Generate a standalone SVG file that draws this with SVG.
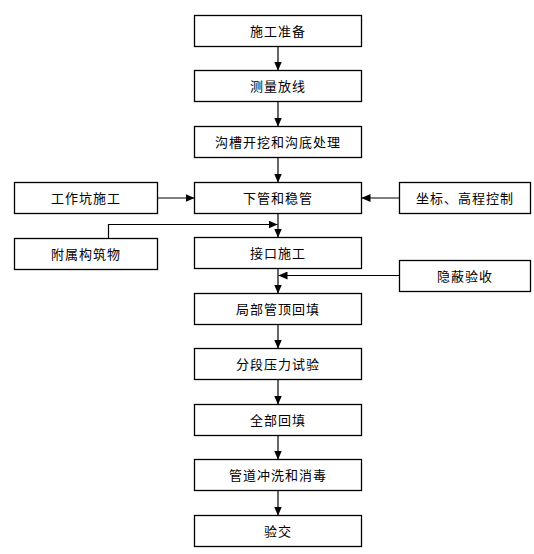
<svg xmlns="http://www.w3.org/2000/svg" width="534" height="554" viewBox="0 0 534 554">
<defs>
<marker id="ah" markerUnits="userSpaceOnUse" markerWidth="9" markerHeight="8" refX="9" refY="4" orient="auto">
<path d="M0,0 L9,4 L0,8 Z" fill="#000"/>
</marker>
<style>
rect{fill:#fff;stroke:#000;stroke-width:1.3}
text{font-family:"Noto Sans CJK SC","Noto Sans CJK JP",sans-serif;font-size:13px;letter-spacing:1px;text-anchor:middle;fill:#000}
.c line,.c polyline{stroke:#000;stroke-width:1.2;fill:none;marker-end:url(#ah)}
</style>
</defs>
<rect x="0" y="0" width="534" height="554" style="stroke:none"/>
<g id="n1"><rect x="194.5" y="15.5" width="167" height="31"/><text x="278" y="35.5">施工准备</text></g>
<g id="n2"><rect x="194.5" y="70.5" width="167" height="31"/><text x="278" y="90.5">测量放线</text></g>
<g id="n3"><rect x="194.5" y="126.5" width="167" height="31"/><text x="278" y="146.5">沟槽开挖和沟底处理</text></g>
<g id="n4"><rect x="194.5" y="182.5" width="167" height="31"/><text x="278" y="202.5">下管和稳管</text></g>
<g id="n5"><rect x="194.5" y="237.5" width="167" height="31"/><text x="278" y="257.5">接口施工</text></g>
<g id="n6"><rect x="194.5" y="293.5" width="167" height="31"/><text x="278" y="313.5">局部管顶回填</text></g>
<g id="n7"><rect x="194.5" y="348.5" width="167" height="31"/><text x="278" y="368.5">分段压力试验</text></g>
<g id="n8"><rect x="194.5" y="404.5" width="167" height="31"/><text x="278" y="424.5">全部回填</text></g>
<g id="n9"><rect x="194.5" y="459.5" width="167" height="31"/><text x="278" y="479.5">管道冲洗和消毒</text></g>
<g id="n10"><rect x="194.5" y="515.5" width="167" height="31"/><text x="278" y="535.5">验交</text></g>
<g id="l1"><rect x="14.5" y="182.5" width="143" height="31"/><text x="86" y="202.5">工作坑施工</text></g>
<g id="l2"><rect x="14.5" y="238.5" width="143" height="31"/><text x="86" y="258.5">附属构筑物</text></g>
<g id="r1"><rect x="399.5" y="182.5" width="131" height="31"/><text x="465" y="202.5">坐标、高程控制</text></g>
<g id="r2"><rect x="399.5" y="260.5" width="131" height="31"/><text x="465" y="280.5">隐蔽验收</text></g>
<g id="connectors" class="c">
<line x1="278" y1="46.5" x2="278" y2="70.5"/>
<line x1="278" y1="101.5" x2="278" y2="126.5"/>
<line x1="278" y1="157.5" x2="278" y2="182.5"/>
<line x1="278" y1="213.5" x2="278" y2="237.5"/>
<line x1="278" y1="268.5" x2="278" y2="293.5"/>
<line x1="278" y1="324.5" x2="278" y2="348.5"/>
<line x1="278" y1="379.5" x2="278" y2="404.5"/>
<line x1="278" y1="435.5" x2="278" y2="459.5"/>
<line x1="278" y1="490.5" x2="278" y2="515.5"/>
<line x1="157.5" y1="198" x2="194.5" y2="198"/>
<line x1="399.5" y1="198" x2="361.5" y2="198"/>
<polyline points="108.5,238.5 108.5,224.5 277.5,224.5"/>
<line x1="399.5" y1="275.5" x2="278.5" y2="275.5"/>
</g>
</svg>
